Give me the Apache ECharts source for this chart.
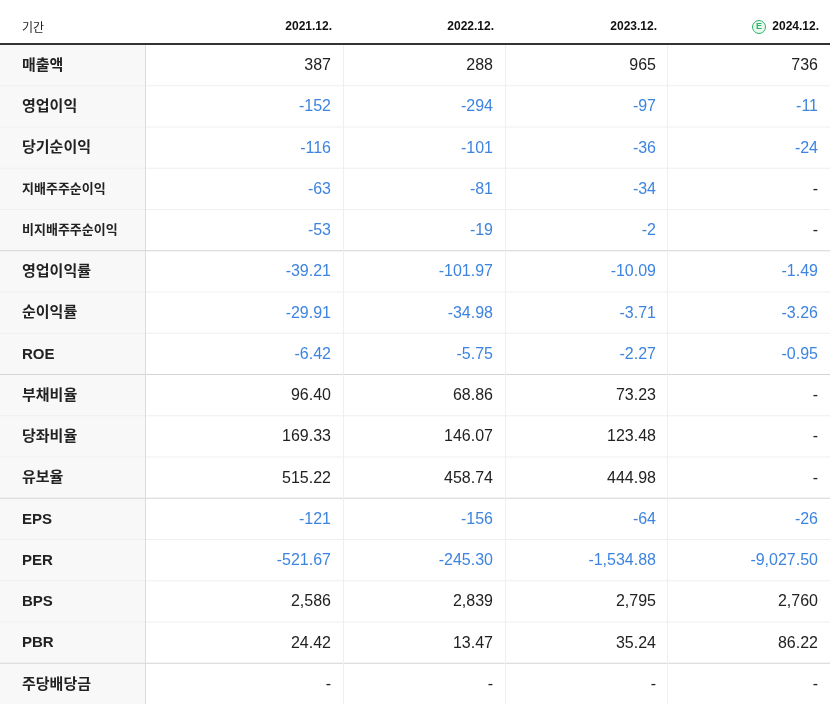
<!DOCTYPE html><html><head><meta charset="utf-8">
<script src="https://cdn.jsdelivr.net/npm/echarts@6/dist/echarts.min.js"></script>
<style>html,body{margin:0;padding:0;background:#fff}#c{width:830px;height:704px}</style></head><body><div id="c"></div>
<script>
const periods = ['2021.12.','2022.12.','2023.12.','2024.12.'];
const rowLabels = ['매출액','영업이익','당기순이익','지배주주순이익','비지배주주순이익','영업이익률','순이익률','ROE','부채비율','당좌비율','유보율','EPS','PER','BPS','PBR','주당배당금'];
const col2021 = ['387','-152','-116','-63','-53','-39.21','-29.91','-6.42','96.40','169.33','515.22','-121','-521.67','2,586','24.42','-'];
const col2022 = ['288','-294','-101','-81','-19','-101.97','-34.98','-5.75','68.86','146.07','458.74','-156','-245.30','2,839','13.47','-'];
const col2023 = ['965','-97','-36','-34','-2','-10.09','-3.71','-2.27','73.23','123.48','444.98','-64','-1,534.88','2,795','35.24','-'];
const col2024 = ['736','-11','-24','-','-','-1.49','-3.26','-0.95','-','-','-','-26','-9,027.50','2,760','86.22','-'];
const groupEnds = [4,7,10,14];
const smallRows = [3,4];

const cols=[col2021,col2022,col2023,col2024];
const colRight=[331,493,656,818];
const vlines=[145,343,505,667];
const top0=45, rh=41.25, W=830;
const g=[];
for(let i=0;i<rowLabels.length;i++){
  const y=top0+i*rh;
  g.push({type:'rect',shape:{x:0,y:y,width:145,height:rh},style:{fill:'#f8f8f8'},z:0});
  g.push({type:'rect',shape:{x:0,y:y+rh-1,width:W,height:1},style:{fill:groupEnds.includes(i)?'#d4d4d4':'#efefef'},z:1});
  g.push({type:'text',x:22,y:y+rh/2,style:{text:rowLabels[i],fill:'#222',font:'bold '+(smallRows.includes(i)?'13px':'15px')+' "Liberation Sans", "Noto Sans CJK KR", sans-serif',verticalAlign:'middle'},z:3});
  cols.forEach((c,j)=>{
    const v=c[i];
    g.push({type:'text',x:colRight[j],y:y+rh/2,style:{text:v,fill:v.startsWith('-')&&v.length>1?'#3d84e0':'#222',font:'16px "Liberation Sans", Arial, sans-serif',align:'right',verticalAlign:'middle'},z:3});
  });
}
vlines.forEach((x,k)=>g.push({type:'rect',shape:{x:x,y:top0,width:1,height:704-top0},style:{fill:k===0?'#dcdcdc':'#efefef'},z:2}));
g.push({type:'rect',shape:{x:0,y:43,width:W,height:2},style:{fill:'#333'},z:4});
g.push({type:'text',x:22,y:27,style:{text:'기간',fill:'#222',font:'12px "Noto Sans CJK KR", sans-serif',verticalAlign:'middle'}});
periods.forEach((p,j)=>{
  g.push({type:'text',x:colRight[j]+1,y:27,style:{text:p,fill:'#111',font:'bold 12px "Liberation Sans", Arial, sans-serif',align:'right',verticalAlign:'middle'}});
});
g.push({type:'circle',shape:{cx:759,cy:27,r:6.5},style:{fill:'#e8f7ee',stroke:'#2fb36a',lineWidth:1}});
g.push({type:'text',x:759,y:27,style:{text:'E',fill:'#2fb36a',font:'bold 9px sans-serif',align:'center',verticalAlign:'middle'}});
const ch=echarts.init(document.getElementById('c'));
ch.setOption({animation:false,graphic:g});
</script></body></html>
